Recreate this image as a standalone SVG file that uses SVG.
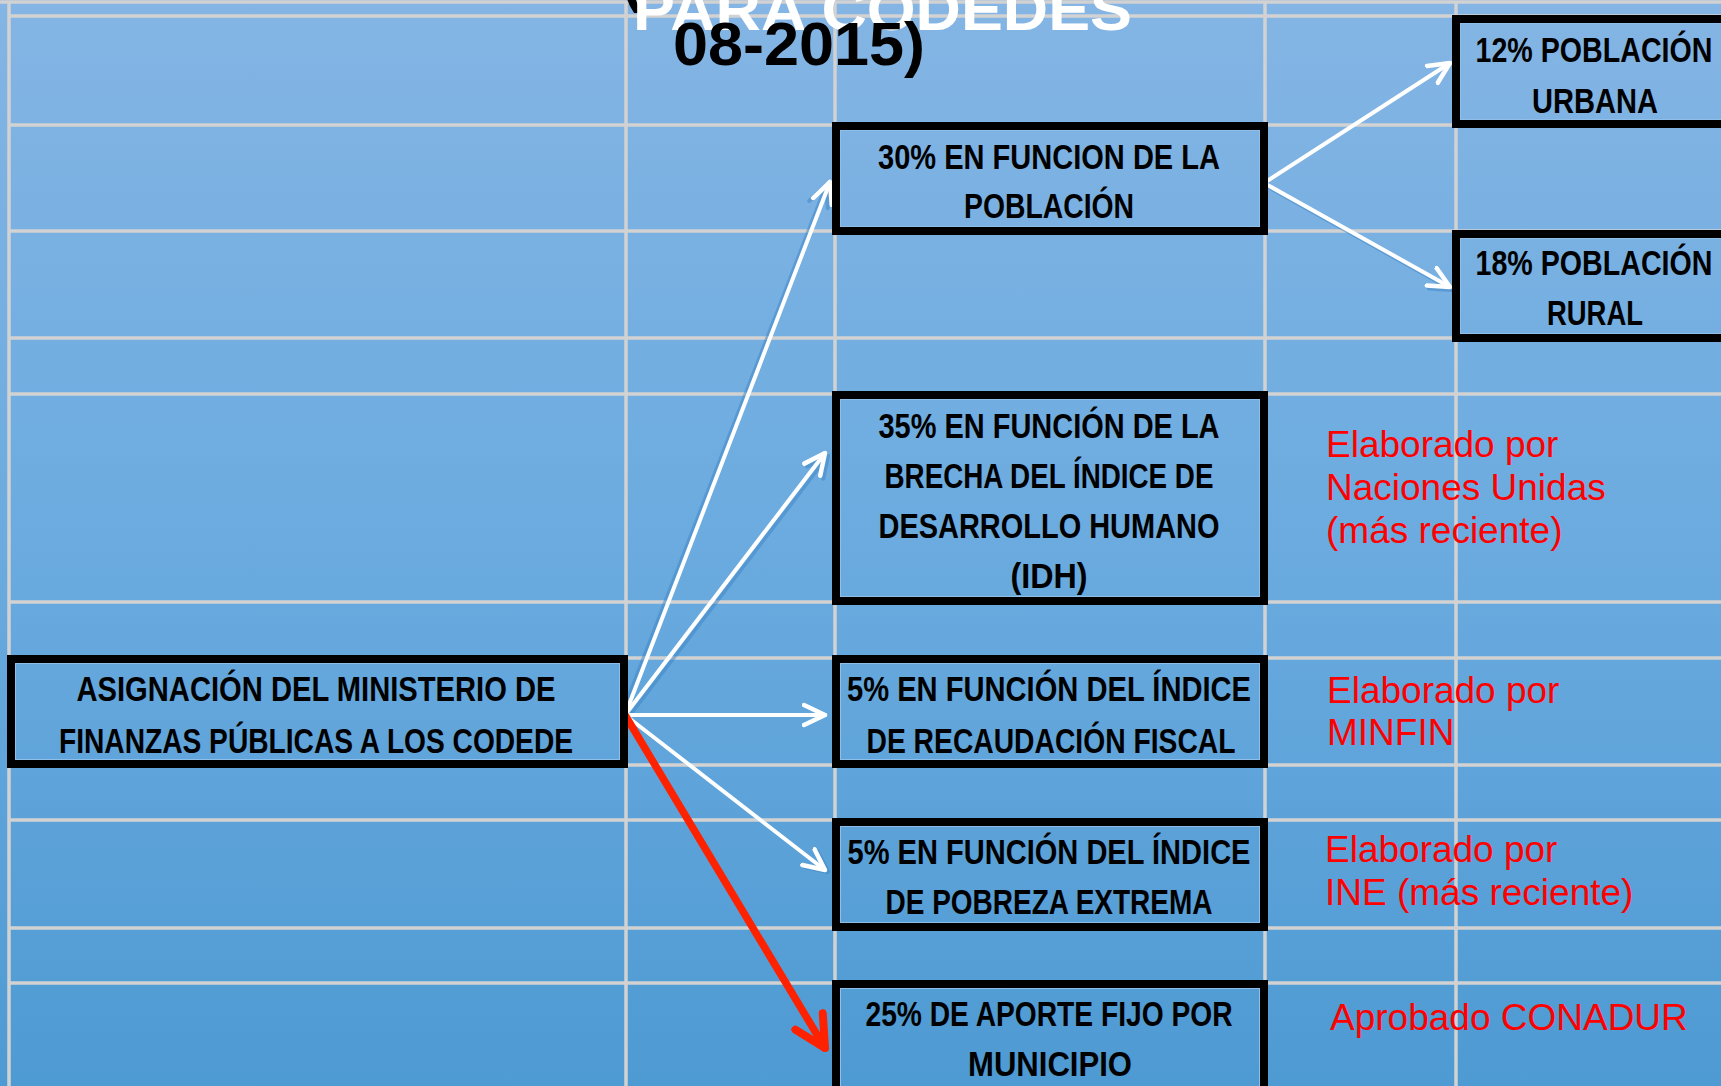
<svg xmlns="http://www.w3.org/2000/svg" width="1721" height="1086" viewBox="0 0 1721 1086">
  <defs>
    <linearGradient id="bg" gradientUnits="userSpaceOnUse" x1="0" y1="0" x2="0" y2="1086">
      <stop offset="0" stop-color="#84B5E4"/>
      <stop offset="0.5" stop-color="#6BABDF"/>
      <stop offset="1" stop-color="#4E9AD3"/>
    </linearGradient>
    <marker id="wh" viewBox="0 0 26 26" refX="23" refY="13" markerWidth="26" markerHeight="26" markerUnits="userSpaceOnUse" orient="auto">
      <path d="M2,3 L23,13 L2,23" fill="none" stroke="#FFFFFF" stroke-width="4.5" stroke-linecap="round" stroke-linejoin="round"/>
    </marker>
    <marker id="wsh" viewBox="0 0 26 26" refX="23" refY="13" markerWidth="26" markerHeight="26" markerUnits="userSpaceOnUse" orient="auto">
      <path d="M2,3 L23,13 L2,23" fill="none" stroke="#3F85C6" stroke-width="4" stroke-linecap="round" stroke-linejoin="round"/>
    </marker>
    <marker id="rd" viewBox="0 0 40 40" refX="35" refY="20" markerWidth="40" markerHeight="40" markerUnits="userSpaceOnUse" orient="auto">
      <path d="M4,4 L35,20 L4,36" fill="none" stroke="#FF2200" stroke-width="8" stroke-linecap="round" stroke-linejoin="round"/>
    </marker>
    <style>
      .grid { stroke: #D2D2D2; stroke-width: 3.5; }
      .outer { fill: url(#bg); stroke: #000000; stroke-width: 8; }
      .inner { fill: none; stroke: #8FBFE8; stroke-width: 1; }
      .bt { font-family: "Liberation Sans Narrow", "Liberation Sans", Arial, sans-serif; font-weight: bold; font-size: 35px; fill: #000000; text-anchor: middle; }
      .note { font-family: "Liberation Sans", Arial, sans-serif; font-size: 37px; fill: #FF0000; }
      .wa { fill: none; stroke: #FFFFFF; stroke-width: 4; stroke-linecap: round; marker-end: url(#wh); }
      .sh { fill: none; stroke: #3F85C6; stroke-width: 3.5; stroke-linecap: round; opacity: 0.5; marker-end: url(#wsh); }
      .ra { fill: none; stroke: #FF2200; stroke-width: 7.5; stroke-linecap: round; marker-end: url(#rd); }
    </style>
  </defs>

  <rect x="0" y="0" width="1721" height="1086" fill="url(#bg)"/>

  <g id="grid">
    <line class="grid" x1="0" y1="2" x2="1721" y2="2" stroke="#E6EEF6"/>
    <line class="grid" x1="9" y1="16" x2="1721" y2="16"/>
    <line class="grid" x1="9" y1="125" x2="1721" y2="125"/>
    <line class="grid" x1="9" y1="231" x2="1721" y2="231"/>
    <line class="grid" x1="9" y1="338" x2="1721" y2="338"/>
    <line class="grid" x1="9" y1="394" x2="1721" y2="394"/>
    <line class="grid" x1="9" y1="602" x2="1721" y2="602"/>
    <line class="grid" x1="9" y1="658" x2="1721" y2="658"/>
    <line class="grid" x1="9" y1="765" x2="1721" y2="765"/>
    <line class="grid" x1="9" y1="820" x2="1721" y2="820"/>
    <line class="grid" x1="9" y1="928" x2="1721" y2="928"/>
    <line class="grid" x1="9" y1="983" x2="1721" y2="983"/>
    <line class="grid" x1="9" y1="2" x2="9" y2="1086"/>
    <line class="grid" x1="626" y1="2" x2="626" y2="1086"/>
    <line class="grid" x1="835" y1="2" x2="835" y2="1086"/>
    <line class="grid" x1="1265" y1="2" x2="1265" y2="1086"/>
    <line class="grid" x1="1456" y1="2" x2="1456" y2="1086"/>
  </g>

  <g id="title">
    <text x="622" y="0" font-family="Liberation Sans, Arial, sans-serif" font-weight="bold" font-size="62" fill="#000000">(</text>
    <text x="633" y="30" font-family="Liberation Sans, Arial, sans-serif" font-weight="bold" font-size="59" fill="#FFFFFF" textLength="499" lengthAdjust="spacingAndGlyphs">PARA CODEDES</text>
    <text x="673" y="65" font-family="Liberation Sans, Arial, sans-serif" font-weight="bold" font-size="62" fill="#000000" textLength="252" lengthAdjust="spacingAndGlyphs">08-2015)</text>
  </g>

  <g id="connectors">
    <line class="sh" x1="628" y1="718" x2="828" y2="456"/>
    <line class="sh" x1="628" y1="718" x2="828" y2="872"/>
    <line class="sh" x1="1266" y1="186" x2="1452" y2="290"/>
    <line class="sh" x1="621" y1="716" x2="826" y2="185"/>
    <line class="wa" x1="625" y1="715" x2="830" y2="182"/>
    <line class="wa" x1="625" y1="715" x2="825" y2="453"/>
    <line class="wa" x1="625" y1="715" x2="825" y2="715"/>
    <line class="wa" x1="625" y1="715" x2="825" y2="870"/>
    <line class="ra" x1="625" y1="715" x2="825" y2="1048"/>
    <line class="wa" x1="1264" y1="183" x2="1450" y2="63"/>
    <line class="wa" x1="1264" y1="183" x2="1450" y2="287"/>
  </g>

  <g id="node-asignacion">
    <rect class="outer" x="11" y="659" width="613" height="105"/>
    <rect class="inner" x="15.5" y="663.5" width="604" height="96"/>
    <text class="bt" x="316" y="701" textLength="479" lengthAdjust="spacingAndGlyphs">ASIGNACIÓN DEL MINISTERIO DE</text>
    <text class="bt" x="316" y="753" textLength="514" lengthAdjust="spacingAndGlyphs">FINANZAS PÚBLICAS A LOS CODEDE</text>
  </g>

  <g id="node-30">
    <rect class="outer" x="836" y="126" width="428" height="105"/>
    <rect class="inner" x="840.5" y="130.5" width="419" height="96"/>
    <text class="bt" x="1049" y="169" textLength="342" lengthAdjust="spacingAndGlyphs">30% EN FUNCION DE LA</text>
    <text class="bt" x="1049" y="218" textLength="170" lengthAdjust="spacingAndGlyphs">POBLACIÓN</text>
  </g>

  <g id="node-35">
    <rect class="outer" x="836" y="395" width="428" height="206"/>
    <rect class="inner" x="840.5" y="399.5" width="419" height="197"/>
    <text class="bt" x="1049" y="438" textLength="341" lengthAdjust="spacingAndGlyphs">35% EN FUNCIÓN DE LA</text>
    <text class="bt" x="1049" y="488" textLength="329" lengthAdjust="spacingAndGlyphs">BRECHA DEL ÍNDICE DE</text>
    <text class="bt" x="1049" y="538" textLength="341" lengthAdjust="spacingAndGlyphs">DESARROLLO HUMANO</text>
    <text class="bt" x="1049" y="588" textLength="77" lengthAdjust="spacingAndGlyphs">(IDH)</text>
  </g>

  <g id="node-5-recaudacion">
    <rect class="outer" x="836" y="659" width="428" height="105"/>
    <rect class="inner" x="840.5" y="663.5" width="419" height="96"/>
    <text class="bt" x="1049" y="701" textLength="404" lengthAdjust="spacingAndGlyphs">5% EN FUNCIÓN DEL ÍNDICE</text>
    <text class="bt" x="1051" y="753" textLength="369" lengthAdjust="spacingAndGlyphs">DE RECAUDACIÓN FISCAL</text>
  </g>

  <g id="node-5-pobreza">
    <rect class="outer" x="836" y="822" width="428" height="105"/>
    <rect class="inner" x="840.5" y="826.5" width="419" height="96"/>
    <text class="bt" x="1049" y="864" textLength="403" lengthAdjust="spacingAndGlyphs">5% EN FUNCIÓN DEL ÍNDICE</text>
    <text class="bt" x="1049" y="914" textLength="327" lengthAdjust="spacingAndGlyphs">DE POBREZA EXTREMA</text>
  </g>

  <g id="node-25">
    <rect class="outer" x="836" y="984" width="428" height="130"/>
    <rect class="inner" x="840.5" y="988.5" width="419" height="121"/>
    <text class="bt" x="1049" y="1026" textLength="367" lengthAdjust="spacingAndGlyphs">25% DE APORTE FIJO POR</text>
    <text class="bt" x="1050" y="1076" textLength="164" lengthAdjust="spacingAndGlyphs">MUNICIPIO</text>
  </g>

  <g id="node-12">
    <rect class="outer" x="1456" y="19" width="290" height="105"/>
    <rect class="inner" x="1460.5" y="23.5" width="281" height="96"/>
    <text class="bt" x="1594" y="62" textLength="237" lengthAdjust="spacingAndGlyphs">12% POBLACIÓN</text>
    <text class="bt" x="1595" y="113" textLength="126" lengthAdjust="spacingAndGlyphs">URBANA</text>
  </g>

  <g id="node-18">
    <rect class="outer" x="1456" y="234" width="290" height="104"/>
    <rect class="inner" x="1460.5" y="238.5" width="281" height="95"/>
    <text class="bt" x="1594" y="275" textLength="237" lengthAdjust="spacingAndGlyphs">18% POBLACIÓN</text>
    <text class="bt" x="1595" y="325" textLength="96" lengthAdjust="spacingAndGlyphs">RURAL</text>
  </g>

  <g id="notes">
    <text class="note" x="1326" y="457">Elaborado por</text>
    <text class="note" x="1326" y="500">Naciones Unidas</text>
    <text class="note" x="1326" y="543">(más reciente)</text>
    <text class="note" x="1327" y="703">Elaborado por</text>
    <text class="note" x="1327" y="745">MINFIN</text>
    <text class="note" x="1325" y="862">Elaborado por</text>
    <text class="note" x="1325" y="905">INE (más reciente)</text>
    <text class="note" x="1330" y="1030">Aprobado CONADUR</text>
  </g>
</svg>
